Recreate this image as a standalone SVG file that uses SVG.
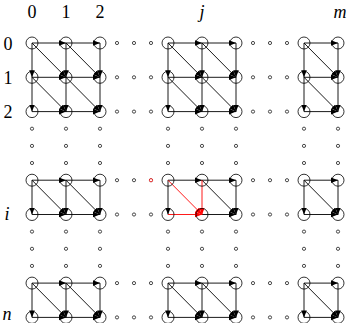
<svg xmlns="http://www.w3.org/2000/svg" xmlns:xlink="http://www.w3.org/1999/xlink" width="353" height="323" viewBox="0 0 353 323">
<style>
.e{stroke:#000;stroke-width:0.9;marker-end:url(#ah)}
.r{stroke:#f00;stroke-width:0.9;marker-end:url(#ahr)}
.nd{fill:none;stroke:#000;stroke-width:0.8}
.d{fill:#fff;stroke:#000;stroke-width:0.7}
.dr{fill:#fff;stroke:#f00;stroke-width:0.7}
.lb{font-family:"Liberation Serif","DejaVu Serif",serif;font-size:18px;fill:#000;text-anchor:middle}
.it{font-style:italic}
</style>
<defs>
<marker id="ah" markerUnits="userSpaceOnUse" markerWidth="8" markerHeight="6" viewBox="0 0 8 6" refX="7" refY="2.8" orient="auto"><path d="M0,0 L7,2.8 L0,5.6 Z" fill="#000"/></marker>
<marker id="ahr" markerUnits="userSpaceOnUse" markerWidth="8" markerHeight="6" viewBox="0 0 8 6" refX="7" refY="2.8" orient="auto"><path d="M0,0 L7,2.8 L0,5.6 Z" fill="#f00"/></marker>
<g id="hd"><circle class="d" cx="117" cy="0" r="1.6"/><circle class="d" cx="134" cy="0" r="1.6"/><circle class="d" cx="151" cy="0" r="1.6"/><circle class="d" cx="253" cy="0" r="1.6"/><circle class="d" cx="270" cy="0" r="1.6"/><circle class="d" cx="287" cy="0" r="1.6"/></g>
<g id="vd"><circle class="d" cx="0" cy="128.7" r="1.6"/><circle class="d" cx="0" cy="145.9" r="1.6"/><circle class="d" cx="0" cy="163" r="1.6"/><circle class="d" cx="0" cy="231.6" r="1.6"/><circle class="d" cx="0" cy="248.8" r="1.6"/><circle class="d" cx="0" cy="265.9" r="1.6"/></g>
</defs>
<rect width="353" height="323" fill="#fff"/>
<g id="labels">
<text class="lb" x="32" y="18">0</text>
<text class="lb" x="66" y="18">1</text>
<text class="lb" x="100" y="18">2</text>
<text class="lb it" x="202" y="18">j</text>
<text class="lb it" x="340" y="18">m</text>
<text class="lb" x="8" y="49.5">0</text>
<text class="lb" x="8" y="83.8">1</text>
<text class="lb" x="8" y="118">2</text>
<text class="lb it" x="7" y="220">i</text>
<text class="lb it" x="7" y="320">n</text>
</g>
<g id="dots">
<use xlink:href="#hd" y="43"/><use xlink:href="#hd" y="77.3"/><use xlink:href="#hd" y="111.6"/>
<use xlink:href="#hd" y="180.2"/><use xlink:href="#hd" y="214.5"/><use xlink:href="#hd" y="283.1"/><use xlink:href="#hd" y="317.4"/>
<use xlink:href="#vd" x="32"/><use xlink:href="#vd" x="66"/><use xlink:href="#vd" x="100"/>
<use xlink:href="#vd" x="168"/><use xlink:href="#vd" x="202"/><use xlink:href="#vd" x="236"/>
<use xlink:href="#vd" x="304"/><use xlink:href="#vd" x="338"/>
<circle class="dr" cx="151" cy="180.2" r="1.6"/>
</g>
<g id="connectors">
<!-- A x B0 -->
<line class="e" x1="32" y1="43" x2="66" y2="43"/><line class="e" x1="66" y1="43" x2="100" y2="43"/>
<line class="e" x1="32" y1="77.3" x2="66" y2="77.3"/><line class="e" x1="66" y1="77.3" x2="100" y2="77.3"/>
<line class="e" x1="32" y1="111.6" x2="66" y2="111.6"/><line class="e" x1="66" y1="111.6" x2="100" y2="111.6"/>
<line class="e" x1="32" y1="43" x2="32" y2="77.3"/><line class="e" x1="32" y1="77.3" x2="32" y2="111.6"/>
<line class="e" x1="66" y1="43" x2="66" y2="77.3"/><line class="e" x1="66" y1="77.3" x2="66" y2="111.6"/>
<line class="e" x1="100" y1="43" x2="100" y2="77.3"/><line class="e" x1="100" y1="77.3" x2="100" y2="111.6"/>
<line class="e" x1="32" y1="43" x2="66" y2="77.3"/><line class="e" x1="66" y1="43" x2="100" y2="77.3"/>
<line class="e" x1="32" y1="77.3" x2="66" y2="111.6"/><line class="e" x1="66" y1="77.3" x2="100" y2="111.6"/>
<!-- J x B0 -->
<line class="e" x1="168" y1="43" x2="202" y2="43"/><line class="e" x1="202" y1="43" x2="236" y2="43"/>
<line class="e" x1="168" y1="77.3" x2="202" y2="77.3"/><line class="e" x1="202" y1="77.3" x2="236" y2="77.3"/>
<line class="e" x1="168" y1="111.6" x2="202" y2="111.6"/><line class="e" x1="202" y1="111.6" x2="236" y2="111.6"/>
<line class="e" x1="168" y1="43" x2="168" y2="77.3"/><line class="e" x1="168" y1="77.3" x2="168" y2="111.6"/>
<line class="e" x1="202" y1="43" x2="202" y2="77.3"/><line class="e" x1="202" y1="77.3" x2="202" y2="111.6"/>
<line class="e" x1="236" y1="43" x2="236" y2="77.3"/><line class="e" x1="236" y1="77.3" x2="236" y2="111.6"/>
<line class="e" x1="168" y1="43" x2="202" y2="77.3"/><line class="e" x1="202" y1="43" x2="236" y2="77.3"/>
<line class="e" x1="168" y1="77.3" x2="202" y2="111.6"/><line class="e" x1="202" y1="77.3" x2="236" y2="111.6"/>
<!-- M x B0 -->
<line class="e" x1="304" y1="43" x2="338" y2="43"/><line class="e" x1="304" y1="77.3" x2="338" y2="77.3"/><line class="e" x1="304" y1="111.6" x2="338" y2="111.6"/>
<line class="e" x1="304" y1="43" x2="304" y2="77.3"/><line class="e" x1="304" y1="77.3" x2="304" y2="111.6"/>
<line class="e" x1="338" y1="43" x2="338" y2="77.3"/><line class="e" x1="338" y1="77.3" x2="338" y2="111.6"/>
<line class="e" x1="304" y1="43" x2="338" y2="77.3"/><line class="e" x1="304" y1="77.3" x2="338" y2="111.6"/>
<!-- A x Bi -->
<line class="e" x1="32" y1="180.2" x2="66" y2="180.2"/><line class="e" x1="66" y1="180.2" x2="100" y2="180.2"/>
<line class="e" x1="32" y1="214.5" x2="66" y2="214.5"/><line class="e" x1="66" y1="214.5" x2="100" y2="214.5"/>
<line class="e" x1="32" y1="180.2" x2="32" y2="214.5"/><line class="e" x1="66" y1="180.2" x2="66" y2="214.5"/><line class="e" x1="100" y1="180.2" x2="100" y2="214.5"/>
<line class="e" x1="32" y1="180.2" x2="66" y2="214.5"/><line class="e" x1="66" y1="180.2" x2="100" y2="214.5"/>
<!-- J x Bi -->
<line class="e" x1="168" y1="180.2" x2="202" y2="180.2"/><line class="e" x1="202" y1="180.2" x2="236" y2="180.2"/>
<line class="e" x1="202" y1="214.5" x2="236" y2="214.5"/>
<line class="e" x1="168" y1="180.2" x2="168" y2="214.5"/><line class="e" x1="236" y1="180.2" x2="236" y2="214.5"/>
<line class="e" x1="202" y1="180.2" x2="236" y2="214.5"/>
<line class="r" x1="168" y1="214.5" x2="202" y2="214.5"/>
<line class="r" x1="202" y1="180.2" x2="202" y2="214.5"/>
<line class="r" x1="168" y1="180.2" x2="202" y2="214.5"/>
<!-- M x Bi -->
<line class="e" x1="304" y1="180.2" x2="338" y2="180.2"/><line class="e" x1="304" y1="214.5" x2="338" y2="214.5"/>
<line class="e" x1="304" y1="180.2" x2="304" y2="214.5"/><line class="e" x1="338" y1="180.2" x2="338" y2="214.5"/>
<line class="e" x1="304" y1="180.2" x2="338" y2="214.5"/>
<!-- A x Bn -->
<line class="e" x1="32" y1="283.1" x2="66" y2="283.1"/><line class="e" x1="66" y1="283.1" x2="100" y2="283.1"/>
<line class="e" x1="32" y1="317.4" x2="66" y2="317.4"/><line class="e" x1="66" y1="317.4" x2="100" y2="317.4"/>
<line class="e" x1="32" y1="283.1" x2="32" y2="317.4"/><line class="e" x1="66" y1="283.1" x2="66" y2="317.4"/><line class="e" x1="100" y1="283.1" x2="100" y2="317.4"/>
<line class="e" x1="32" y1="283.1" x2="66" y2="317.4"/><line class="e" x1="66" y1="283.1" x2="100" y2="317.4"/>
<!-- J x Bn -->
<line class="e" x1="168" y1="283.1" x2="202" y2="283.1"/><line class="e" x1="202" y1="283.1" x2="236" y2="283.1"/>
<line class="e" x1="168" y1="317.4" x2="202" y2="317.4"/><line class="e" x1="202" y1="317.4" x2="236" y2="317.4"/>
<line class="e" x1="168" y1="283.1" x2="168" y2="317.4"/><line class="e" x1="202" y1="283.1" x2="202" y2="317.4"/><line class="e" x1="236" y1="283.1" x2="236" y2="317.4"/>
<line class="e" x1="168" y1="283.1" x2="202" y2="317.4"/><line class="e" x1="202" y1="283.1" x2="236" y2="317.4"/>
<!-- M x Bn -->
<line class="e" x1="304" y1="283.1" x2="338" y2="283.1"/><line class="e" x1="304" y1="317.4" x2="338" y2="317.4"/>
<line class="e" x1="304" y1="283.1" x2="304" y2="317.4"/><line class="e" x1="338" y1="283.1" x2="338" y2="317.4"/>
<line class="e" x1="304" y1="283.1" x2="338" y2="317.4"/>
</g>
<g id="nodes">
<g id="n-0-0"><circle class="nd" cx="32" cy="43" r="6"/></g>
<g id="n-0-1"><circle class="nd" cx="66" cy="43" r="6"/></g>
<g id="n-0-2"><circle class="nd" cx="100" cy="43" r="6"/></g>
<g id="n-0-jm1"><circle class="nd" cx="168" cy="43" r="6"/></g>
<g id="n-0-j"><circle class="nd" cx="202" cy="43" r="6"/></g>
<g id="n-0-jp1"><circle class="nd" cx="236" cy="43" r="6"/></g>
<g id="n-0-mm1"><circle class="nd" cx="304" cy="43" r="6"/></g>
<g id="n-0-m"><circle class="nd" cx="338" cy="43" r="6"/></g>
<g id="n-1-0"><circle class="nd" cx="32" cy="77.3" r="6"/></g>
<g id="n-1-1"><circle class="nd" cx="66" cy="77.3" r="6"/></g>
<g id="n-1-2"><circle class="nd" cx="100" cy="77.3" r="6"/></g>
<g id="n-1-jm1"><circle class="nd" cx="168" cy="77.3" r="6"/></g>
<g id="n-1-j"><circle class="nd" cx="202" cy="77.3" r="6"/></g>
<g id="n-1-jp1"><circle class="nd" cx="236" cy="77.3" r="6"/></g>
<g id="n-1-mm1"><circle class="nd" cx="304" cy="77.3" r="6"/></g>
<g id="n-1-m"><circle class="nd" cx="338" cy="77.3" r="6"/></g>
<g id="n-2-0"><circle class="nd" cx="32" cy="111.6" r="6"/></g>
<g id="n-2-1"><circle class="nd" cx="66" cy="111.6" r="6"/></g>
<g id="n-2-2"><circle class="nd" cx="100" cy="111.6" r="6"/></g>
<g id="n-2-jm1"><circle class="nd" cx="168" cy="111.6" r="6"/></g>
<g id="n-2-j"><circle class="nd" cx="202" cy="111.6" r="6"/></g>
<g id="n-2-jp1"><circle class="nd" cx="236" cy="111.6" r="6"/></g>
<g id="n-2-mm1"><circle class="nd" cx="304" cy="111.6" r="6"/></g>
<g id="n-2-m"><circle class="nd" cx="338" cy="111.6" r="6"/></g>
<g id="n-im1-0"><circle class="nd" cx="32" cy="180.2" r="6"/></g>
<g id="n-im1-1"><circle class="nd" cx="66" cy="180.2" r="6"/></g>
<g id="n-im1-2"><circle class="nd" cx="100" cy="180.2" r="6"/></g>
<g id="n-im1-jm1"><circle class="nd" cx="168" cy="180.2" r="6"/></g>
<g id="n-im1-j"><circle class="nd" cx="202" cy="180.2" r="6"/></g>
<g id="n-im1-jp1"><circle class="nd" cx="236" cy="180.2" r="6"/></g>
<g id="n-im1-mm1"><circle class="nd" cx="304" cy="180.2" r="6"/></g>
<g id="n-im1-m"><circle class="nd" cx="338" cy="180.2" r="6"/></g>
<g id="n-i-0"><circle class="nd" cx="32" cy="214.5" r="6"/></g>
<g id="n-i-1"><circle class="nd" cx="66" cy="214.5" r="6"/></g>
<g id="n-i-2"><circle class="nd" cx="100" cy="214.5" r="6"/></g>
<g id="n-i-jm1"><circle class="nd" cx="168" cy="214.5" r="6"/></g>
<g id="n-i-j"><circle class="nd" cx="202" cy="214.5" r="6"/></g>
<g id="n-i-jp1"><circle class="nd" cx="236" cy="214.5" r="6"/></g>
<g id="n-i-mm1"><circle class="nd" cx="304" cy="214.5" r="6"/></g>
<g id="n-i-m"><circle class="nd" cx="338" cy="214.5" r="6"/></g>
<g id="n-nm1-0"><circle class="nd" cx="32" cy="283.1" r="6"/></g>
<g id="n-nm1-1"><circle class="nd" cx="66" cy="283.1" r="6"/></g>
<g id="n-nm1-2"><circle class="nd" cx="100" cy="283.1" r="6"/></g>
<g id="n-nm1-jm1"><circle class="nd" cx="168" cy="283.1" r="6"/></g>
<g id="n-nm1-j"><circle class="nd" cx="202" cy="283.1" r="6"/></g>
<g id="n-nm1-jp1"><circle class="nd" cx="236" cy="283.1" r="6"/></g>
<g id="n-nm1-mm1"><circle class="nd" cx="304" cy="283.1" r="6"/></g>
<g id="n-nm1-m"><circle class="nd" cx="338" cy="283.1" r="6"/></g>
<g id="n-n-0"><circle class="nd" cx="32" cy="317.4" r="6"/></g>
<g id="n-n-1"><circle class="nd" cx="66" cy="317.4" r="6"/></g>
<g id="n-n-2"><circle class="nd" cx="100" cy="317.4" r="6"/></g>
<g id="n-n-jm1"><circle class="nd" cx="168" cy="317.4" r="6"/></g>
<g id="n-n-j"><circle class="nd" cx="202" cy="317.4" r="6"/></g>
<g id="n-n-jp1"><circle class="nd" cx="236" cy="317.4" r="6"/></g>
<g id="n-n-mm1"><circle class="nd" cx="304" cy="317.4" r="6"/></g>
<g id="n-n-m"><circle class="nd" cx="338" cy="317.4" r="6"/></g>
</g>
</svg>
